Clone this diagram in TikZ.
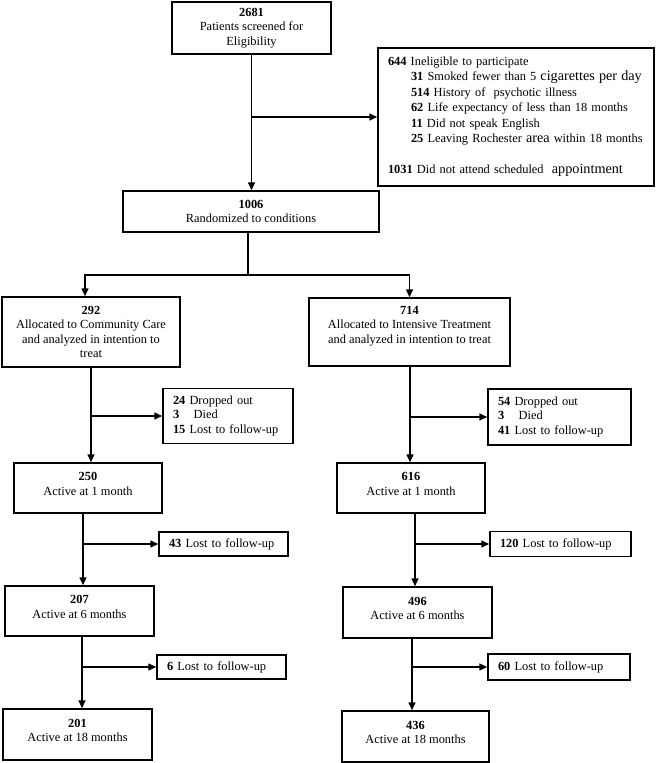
\documentclass[tikz,border=0pt]{standalone}
\usepackage{fontspec}
\setmainfont{Liberation Serif}
\usetikzlibrary{arrows.meta}
\newcommand{\bigw}[1]{{\fontsize{14.2}{15.2}\selectfont #1}}
\newcommand{\upfix}{\\[-6pt]\mbox{}}
\begin{document}
\begin{tikzpicture}[x=1pt,y=-1pt,
  box/.style={draw, line width=1.5pt, inner sep=0pt, align=center,
    font=\fontsize{12.4}{14.3}\selectfont},
  lbox/.style={box, align=left},
  conn/.style={line width=1.5pt},
  arr/.style={conn, -{Triangle[length=8pt,width=7pt]}}]
\useasboundingbox (0,0) rectangle (656,763);

% top
\node[box, minimum width=159pt, minimum height=52pt] (n2681) at (251.5,28)
  {\textbf{2681}\\Patients screened for\\Eligibility};
\node[lbox, minimum width=276pt, minimum height=138pt, text width=256pt,
  font=\fontsize{12.4}{15.4}\selectfont] (n644) at (516,117)
  {\textbf{644} Ineligible to participate\\
   \hspace*{23pt}\textbf{31} Smoked fewer than 5 \bigw{cigarettes per day}\\
   \hspace*{23pt}\textbf{514} History of\ \ psychotic illness\\
   \hspace*{23pt}\textbf{62} Life expectancy of less than 18 months\\
   \hspace*{23pt}\textbf{11} Did not speak English\\
   \hspace*{23pt}\textbf{25} Leaving Rochester \bigw{area} within 18 months\\[16pt]
   \textbf{1031} Did not attend scheduled\ \ \bigw{appointment}};
\node[box, minimum width=256pt, minimum height=41pt] (n1006) at (251,211.5)
  {\textbf{1006}\\Randomized to conditions};

% arms
\node[box, minimum width=178pt, minimum height=70pt] (n292) at (91,332)
  {\textbf{292}\\Allocated to Community Care\\and analyzed in intention to\\treat};
\node[box, minimum width=201pt, minimum height=68pt] (n714) at (409.5,332)
  {\textbf{714}\\Allocated to Intensive Treatment\\and analyzed in intention to treat\\\mbox{}};

% left column
\node[lbox, minimum width=130pt, minimum height=55pt, text width=110pt] (d24) at (228,416)
  {\textbf{24} Dropped out\\\textbf{3}\hphantom{0}\ \ Died\\\textbf{15} Lost to follow-up};
\node[box, minimum width=148pt, minimum height=50pt] (n250) at (88,488)
  {\textbf{250}\\Active at 1 month\upfix};
\node[lbox, minimum width=129pt, minimum height=24pt, text width=109pt] (l43) at (223.5,544)
  {\textbf{43} Lost to follow-up};
\node[box, minimum width=149pt, minimum height=50pt] (n207) at (79.5,611)
  {\textbf{207}\\Active at 6 months\upfix};
\node[lbox, minimum width=129pt, minimum height=24pt, text width=109pt] (l6) at (221.5,667)
  {\textbf{6} Lost to follow-up};
\node[box, minimum width=149pt, minimum height=51pt] (n201) at (77.5,734.5)
  {\textbf{201}\\Active at 18 months\upfix};

% right column
\node[lbox, minimum width=143pt, minimum height=56pt, text width=123pt] (d54) at (559.5,417)
  {\textbf{54} Dropped out\\\textbf{3}\hphantom{0}\ \ Died\\\textbf{41} Lost to follow-up};
\node[box, minimum width=148pt, minimum height=50pt] (n616) at (411,488)
  {\textbf{616}\\Active at 1 month\upfix};
\node[lbox, minimum width=141pt, minimum height=25pt, text width=121pt] (l120) at (560.5,544)
  {\textbf{120} Lost to follow-up};
\node[box, minimum width=149pt, minimum height=51pt] (n496) at (417.5,612.5)
  {\textbf{496}\\Active at 6 months\upfix};
\node[lbox, minimum width=142pt, minimum height=26pt, text width=122pt] (l60) at (559,667)
  {\textbf{60} Lost to follow-up};
\node[box, minimum width=147pt, minimum height=51pt] (n436) at (415.5,736.5)
  {\textbf{436}\\Active at 18 months\upfix};

% connectors top
\draw[arr] (n2681.south) -- (n2681.south |- n1006.north);
\draw[arr] (n2681.south |- n644.west) -- (n644.west);
\coordinate (split) at ([xshift=-3pt]n1006.south);
\coordinate (splitlow) at (248,275);
\draw[conn] (split) -- (split |- splitlow);
\draw[arr] (split |- splitlow) -| ([xshift=-6pt]n292.north);
\draw[arr] (split |- splitlow) -| (n714.north);

% left connectors
\draw[arr] (n292.south) -- (n292.south |- n250.north);
\draw[arr] (n292.south |- d24.west) -- (d24.west);
\coordinate (v2) at ([xshift=-5pt]n250.south);
\draw[arr] (v2) -- (v2 |- n207.north);
\draw[arr] (v2 |- l43.west) -- (l43.west);
\coordinate (v3) at ([xshift=2.5pt]n207.south);
\draw[arr] (v3) -- (v3 |- n201.north);
\draw[arr] (v3 |- l6.west) -- (l6.west);

% right connectors
\coordinate (w1) at ([xshift=0.5pt]n714.south);
\draw[arr] (w1) -- (w1 |- n616.north);
\draw[arr] (w1 |- d54.west) -- (d54.west);
\coordinate (w2) at ([xshift=4pt]n616.south);
\draw[arr] (w2) -- (w2 |- n496.north);
\draw[arr] (w2 |- l120.west) -- (l120.west);
\coordinate (w3) at ([xshift=-5.5pt]n496.south);
\draw[arr] (w3) -- (w3 |- n436.north);
\draw[arr] (w3 |- l60.west) -- (l60.west);
\end{tikzpicture}
\end{document}
